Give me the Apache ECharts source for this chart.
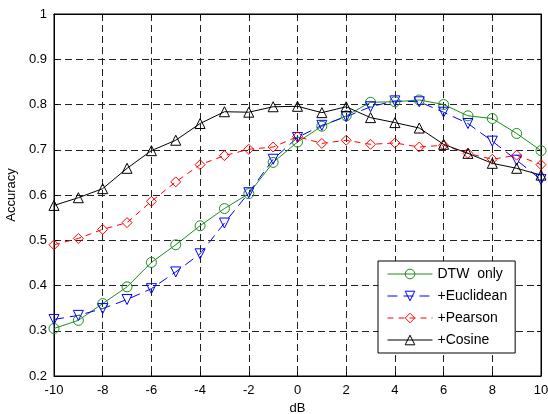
<!DOCTYPE html>
<html>
<head>
<meta charset="utf-8">
<title>Accuracy vs dB</title>
<script src="https://cdn.jsdelivr.net/npm/echarts@6/dist/echarts.min.js"></script>
<style>
    html, body {margin: 0; padding: 0; background: #fff;}
    #chart {width: 548px; height: 414px;}
</style>
</head>
<body>
<div id="chart"></div>
<script>
// x 轴: dB
var dbValues = [-10, -9, -8, -7, -6, -5, -4, -3, -2, -1, 0, 1, 2, 3, 4, 5, 6, 7, 8, 9, 10];
var xTicks = [-10, -8, -6, -4, -2, 0, 2, 4, 6, 8, 10];
var yTicks = [0.2, 0.3, 0.4, 0.5, 0.6, 0.7, 0.8, 0.9, 1];

// 各方法的准确率
var dtwOnly = [0.305, 0.323, 0.360, 0.397, 0.451, 0.490, 0.532, 0.570, 0.603, 0.672, 0.717,
    0.752, 0.775, 0.805, 0.806, 0.810, 0.800, 0.775, 0.769, 0.736, 0.698];
var euclidean = [0.325, 0.334, 0.349, 0.369, 0.393, 0.430, 0.470, 0.538, 0.605, 0.679, 0.727,
    0.754, 0.773, 0.795, 0.808, 0.806, 0.783, 0.758, 0.719, 0.677, 0.634];
var pearson = [0.490, 0.504, 0.524, 0.539, 0.586, 0.629, 0.667, 0.687, 0.701, 0.706, 0.729,
    0.714, 0.721, 0.712, 0.715, 0.706, 0.710, 0.692, 0.679, 0.688, 0.667];
var cosine = [0.577, 0.594, 0.614, 0.659, 0.698, 0.721, 0.758, 0.784, 0.783, 0.795, 0.796,
    0.782, 0.795, 0.771, 0.760, 0.748, 0.712, 0.692, 0.670, 0.659, 0.644];

function pairs(ys) {
    var out = [];
    for (var i = 0; i < dbValues.length; i++) {
        out.push([dbValues[i], ys[i]]);
    }
    return out;
}

function pickTick(list) {
    return function (v) {
        for (var i = 0; i < list.length; i++) {
            if (Math.abs(list[i] - v) < 1e-6) return String(list[i]);
        }
        return '';
    };
}

var font = 'Liberation Sans, Arial, sans-serif';
var gridLine = {show: true, lineStyle: {color: '#222', type: [7, 4], width: 1}};
var labelStyle = {color: '#000', fontFamily: font, fontSize: 13};

function makeSeries(name, ys, color, symbol, rotate, dash) {
    return {
        name: name,
        type: 'line',
        data: pairs(ys),
        symbol: symbol,
        symbolRotate: rotate,
        symbolSize: 10,
        showAllSymbol: true,
        lineStyle: {color: color, width: 1, type: dash},
        itemStyle: {color: 'rgba(0,0,0,0)', borderColor: color, borderWidth: 1},
        emphasis: {disabled: true}
    };
}

var myChart = echarts.init(document.getElementById('chart'));

var option = {
    backgroundColor: '#fff',
    animation: false,
    grid: {
        left: 54, right: 7, top: 14, bottom: 38,
        outerBoundsMode: 'none', containLabel: false,
        show: true, borderColor: '#000', borderWidth: 1, backgroundColor: '#fff'
    },
    legend: {
        orient: 'vertical',
        left: 378, top: 261,
        padding: [6, 8, 6, 9],
        itemWidth: 45, itemHeight: 12, itemGap: 8,
        backgroundColor: '#fff',
        borderColor: '#000', borderWidth: 1, borderRadius: 0,
        itemStyle: {borderWidth: 1},
        lineStyle: {width: 1},
        textStyle: {color: '#000', fontFamily: font, fontSize: 14},
        data: ['DTW  only', '+Euclidean', '+Pearson', '+Cosine']
    },
    xAxis: [
        {
            type: 'value', min: -10, max: 10, interval: 2,
            name: 'dB', nameLocation: 'middle', nameGap: 24,
            nameTextStyle: labelStyle,
            axisLine: {show: true, onZero: false, lineStyle: {color: '#000'}},
            axisTick: {show: true, inside: true, length: 4, lineStyle: {color: '#000'}},
            axisLabel: {color: '#000', fontFamily: font, fontSize: 13, formatter: pickTick(xTicks)},
            splitLine: gridLine
        },
        {
            type: 'value', position: 'top', min: -10, max: 10, interval: 2,
            axisLine: {show: true, onZero: false, lineStyle: {color: '#000'}},
            axisTick: {show: true, inside: true, length: 4, lineStyle: {color: '#000'}},
            axisLabel: {show: false},
            splitLine: {show: false}
        }
    ],
    yAxis: [
        {
            type: 'value', min: 0.2, max: 1, interval: 0.1,
            name: 'Accuracy', nameLocation: 'middle', nameGap: 36,
            nameTextStyle: labelStyle,
            axisLine: {show: true, onZero: false, lineStyle: {color: '#000'}},
            axisTick: {show: true, inside: true, length: 4, lineStyle: {color: '#000'}},
            axisLabel: {color: '#000', fontFamily: font, fontSize: 13, margin: 7, formatter: pickTick(yTicks)},
            splitLine: gridLine
        },
        {
            type: 'value', position: 'right', min: 0.2, max: 1, interval: 0.1,
            axisLine: {show: true, onZero: false, lineStyle: {color: '#000'}},
            axisTick: {show: true, inside: true, length: 4, lineStyle: {color: '#000'}},
            axisLabel: {show: false},
            splitLine: {show: false}
        }
    ],
    series: [
        makeSeries('DTW  only', dtwOnly, '#1e8c1e', 'circle', 0, 'solid'),
        makeSeries('+Euclidean', euclidean, '#0000ff', 'triangle', 180, [10, 6]),
        makeSeries('+Pearson', pearson, '#ff0000', 'diamond', 0, [6, 5]),
        makeSeries('+Cosine', cosine, '#000000', 'triangle', 0, 'solid')
    ]
};
myChart.setOption(option);
</script>
</body>
</html>
